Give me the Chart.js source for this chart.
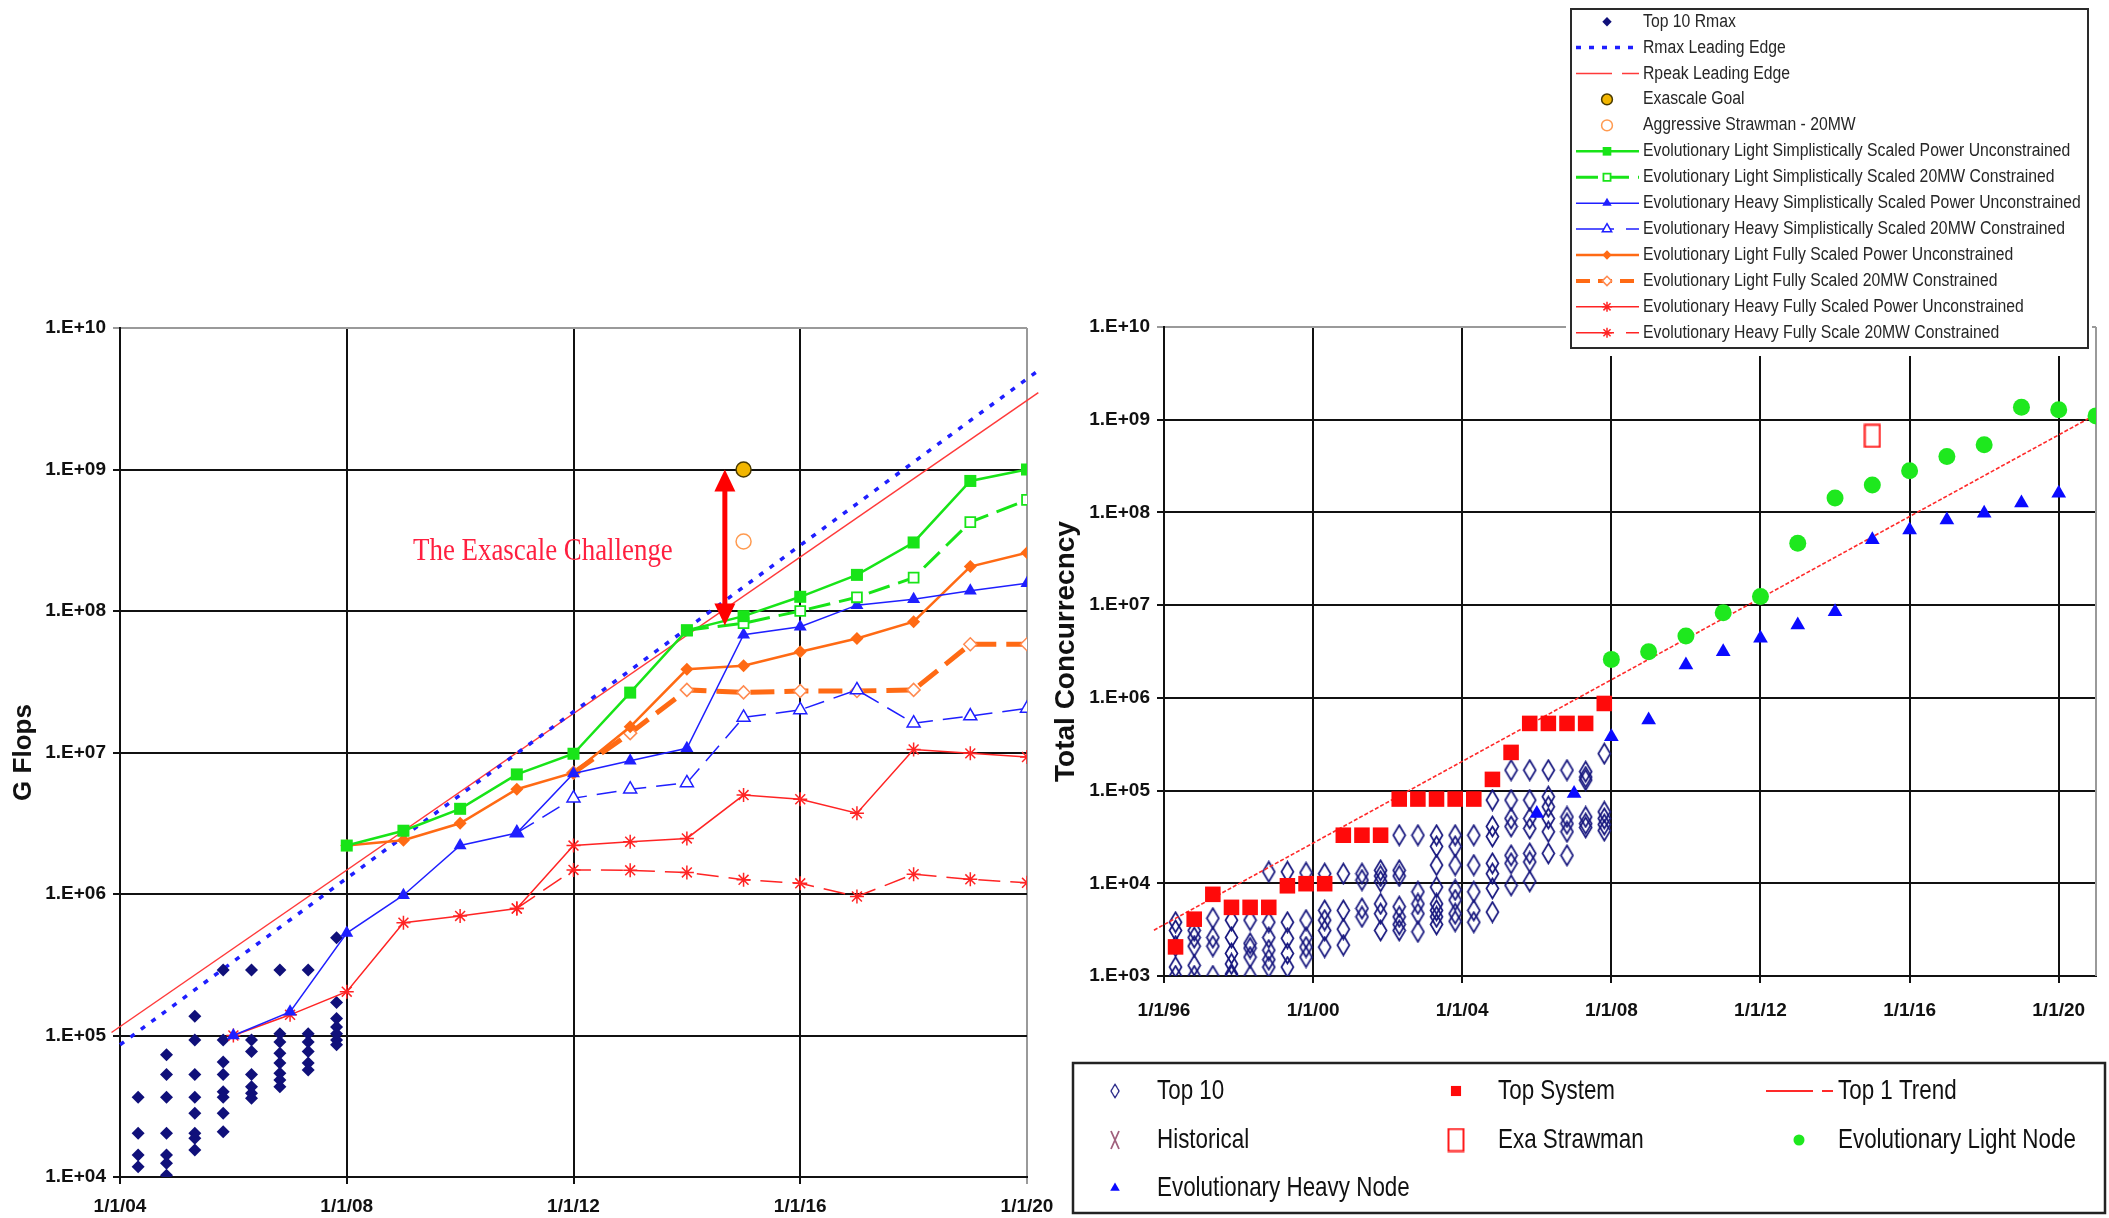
<!DOCTYPE html>
<html>
<head>
<meta charset="utf-8">
<title>Exascale projections</title>
<script src="https://cdn.jsdelivr.net/npm/chart.js"></script>
<style>
  html, body { margin: 0; padding: 0; background: #fff; }
  body { width: 2109px; height: 1218px; position: relative; overflow: hidden; }
  canvas { position: absolute; left: 0; top: 0; }
</style>
</head>
<body>
<canvas id="concurrencyChart" width="2109" height="1218"></canvas>
<canvas id="gflopsChart" width="2109" height="1218"></canvas>
<script>
// ---------- left chart: GFlops ----------
const gflopTicks = [1e4, 1e5, 1e6, 1e7, 1e8, 1e9, 1e10];
const gflopYearTicks = [2004, 2008, 2012, 2016, 2020];

const top10RmaxDates = [2004.32, 2004.82, 2005.32, 2005.82, 2006.32, 2006.82, 2007.32, 2007.82];
const top10RmaxValues = [
  [3.66e4, 2.04e4, 1.43e4, 1.18e4],
  [7.3e4, 5.3e4, 3.66e4, 2.04e4, 1.43e4, 1.25e4, 1.03e4],
  [1.37e5, 9.3e4, 5.3e4, 3.66e4, 2.82e4, 2.04e4, 1.88e4, 1.55e4],
  [2.9e5, 9.3e4, 6.5e4, 5.3e4, 4.0e4, 3.66e4, 2.82e4, 2.09e4],
  [2.9e5, 9.3e4, 7.7e4, 5.3e4, 4.35e4, 3.9e4, 3.6e4],
  [2.9e5, 1.03e5, 9.0e4, 7.5e4, 6.4e4, 5.4e4, 4.85e4, 4.35e4],
  [2.9e5, 1.03e5, 9.0e4, 7.7e4, 6.4e4, 5.7e4],
  [4.9e5, 1.71e5, 1.32e5, 1.15e5, 1.03e5, 9.3e4, 8.6e4]
];

const rmaxEdgeYears = [2004, 2020.17];
const rmaxEdge = [8.6e4, 4.9e9];
const rpeakEdgeYears = [2003.85, 2020.2];
const rpeakEdge = [1.05e5, 3.5e9];

const goalYears = [2015];
const goalValues = [1e9];
const aggressiveYears = [2015];
const aggressiveValues = [3.1e8];

const years08 = [2008, 2009, 2010, 2011, 2012, 2013, 2014, 2015, 2016, 2017, 2018, 2019, 2020];
const years06 = [2006, 2007, 2008, 2009, 2010, 2011, 2012, 2013, 2014, 2015, 2016, 2017, 2018, 2019, 2020];
const years11 = [2011, 2012, 2013, 2014, 2015, 2016, 2017, 2018, 2019, 2020];
const years12 = [2012, 2013, 2014, 2015, 2016, 2017, 2018, 2019, 2020];
const years14 = [2014, 2015, 2016, 2017, 2018, 2019, 2020];

const lightSimpleUnc = [2.2e6, 2.8e6, 4.0e6, 7.0e6, 9.8e6, 2.65e7, 7.3e7, 9.2e7, 1.26e8, 1.8e8, 3.05e8, 8.3e8, 1.0e9];
const lightSimple20 = [7.3e7, 8.2e7, 1.0e8, 1.25e8, 1.72e8, 4.25e8, 6.1e8];
const heavySimpleUnc = [1.0e5, 1.47e5, 5.3e5, 9.8e5, 2.2e6, 2.7e6, 7.1e6, 8.75e6, 1.07e7, 6.8e7, 7.75e7, 1.1e8, 1.21e8, 1.39e8, 1.57e8];
const heavySimple20 = [2.7e6, 4.75e6, 5.5e6, 6.1e6, 1.77e7, 2.0e7, 2.77e7, 1.61e7, 1.81e7, 2.05e7];
const lightFullUnc = [2.2e6, 2.4e6, 3.16e6, 5.5e6, 7.2e6, 1.52e7, 3.87e7, 4.1e7, 5.15e7, 6.4e7, 8.4e7, 2.06e8, 2.58e8];
const lightFull20 = [7.2e6, 1.37e7, 2.77e7, 2.66e7, 2.72e7, 2.72e7, 2.77e7, 5.82e7, 5.82e7];
const heavyFullUnc = [1.0e5, 1.4e5, 2.04e5, 6.27e5, 7.0e5, 7.9e5, 2.2e6, 2.34e6, 2.47e6, 5.0e6, 4.67e6, 3.72e6, 1.05e7, 9.86e6, 9.3e6];
const heavyFull20 = [7.9e5, 1.48e6, 1.47e6, 1.42e6, 1.26e6, 1.19e6, 9.6e5, 1.38e6, 1.27e6, 1.2e6];

const challengeText = 'The Exascale Challenge';
const challengeYear = 2009.17;
const challengeValue = 2.65e8;
const arrowYear = 2014.67;
const arrowTop = 1e9;
const arrowBottom = 7.9e7;

// ---------- right chart: total concurrency ----------
const concTicks = [1e3, 1e4, 1e5, 1e6, 1e7, 1e8, 1e9, 1e10];
const concYearTicks = [1996, 2000, 2004, 2008, 2012, 2016, 2020];

const listDates = [1996.31, 1996.81, 1997.31, 1997.81, 1998.31, 1998.81, 1999.31, 1999.81,
  2000.31, 2000.81, 2001.31, 2001.81, 2002.31, 2002.81, 2003.31, 2003.81,
  2004.31, 2004.81, 2005.31, 2005.81, 2006.31, 2006.81, 2007.31, 2007.81];
const topSystem = [2.06e3, 4.1e3, 7.6e3, 5.5e3, 5.5e3, 5.5e3, 9.4e3, 9.9e3,
  9.9e3, 3.3e4, 3.3e4, 3.3e4, 8.1e4, 8.1e4, 8.1e4, 8.1e4,
  8.1e4, 1.32e5, 2.58e5, 5.3e5, 5.3e5, 5.3e5, 5.3e5, 8.7e5];
const top10Values = [
  [3.8e3, 3.1e3, 2.1e3, 1.25e3, 1.0e3],
  [3.1e3, 2.6e3, 2.1e3, 1.3e3, 1.0e3],
  [4.2e3, 2.6e3, 2.1e3, 1.0e3],
  [4.0e3, 2.6e3, 1.75e3, 1.35e3, 1.05e3, 1.0e3],
  [4.0e3, 2.25e3, 2.0e3, 1.6e3, 1.0e3],
  [1.33e4, 3.8e3, 2.6e3, 1.9e3, 1.5e3, 1.25e3],
  [1.33e4, 3.8e3, 2.55e3, 1.75e3, 1.25e3],
  [1.3e4, 4.0e3, 2.6e3, 2.05e3, 1.6e3],
  [1.27e4, 5.1e3, 4.0e3, 3.1e3, 2.05e3],
  [1.27e4, 5.1e3, 3.2e3, 2.15e3],
  [1.27e4, 1.08e4, 5.35e3, 4.35e3],
  [1.38e4, 1.2e4, 1.05e4, 6.0e3, 4.7e3, 3.1e3],
  [3.3e4, 1.38e4, 1.2e4, 5.6e3, 4.35e3, 3.6e3, 3.1e3],
  [3.3e4, 8.1e3, 6.0e3, 4.7e3, 3.0e3],
  [3.3e4, 2.5e4, 1.57e4, 9.1e3, 6.0e3, 5.1e3, 4.35e3, 3.6e3],
  [3.3e4, 2.5e4, 1.57e4, 8.5e3, 6.6e3, 4.7e3, 3.9e3],
  [3.3e4, 1.57e4, 8.1e3, 5.1e3, 3.8e3],
  [7.9e4, 4.1e4, 3.2e4, 1.64e4, 1.27e4, 8.8e3, 4.9e3],
  [1.66e5, 7.9e4, 5.0e4, 4.1e4, 2.0e4, 1.64e4, 9.5e3],
  [1.66e5, 7.9e4, 5.0e4, 3.9e4, 2.1e4, 1.7e4, 1.05e4],
  [1.66e5, 8.6e4, 6.7e4, 5.0e4, 3.6e4, 2.1e4],
  [1.66e5, 5.2e4, 4.4e4, 3.6e4, 2.0e4],
  [1.6e5, 1.4e5, 1.3e5, 5.2e4, 4.4e4, 4.0e4],
  [2.5e5, 5.9e4, 5.0e4, 4.3e4, 3.7e4]
];
const trendYears = [1995.73, 2020.82];
const trendValues = [3.12e3, 1.04e9];
const strawYears = [2015];
const strawValues = [6.7e8];
const lightNodeYears = [2008, 2009, 2010, 2011, 2012, 2013, 2014, 2015, 2016, 2017, 2018, 2019, 2020, 2021];
const lightNode = [2.6e6, 3.15e6, 4.65e6, 8.3e6, 1.24e7, 4.66e7, 1.43e8, 1.98e8, 2.81e8, 4.0e8, 5.36e8, 1.36e9, 1.28e9, 1.1e9];
const heavyNodeYears = [2006, 2007, 2008, 2009, 2010, 2011, 2012, 2013, 2014, 2015, 2016, 2017, 2018, 2019, 2020];
const heavyNode = [5.66e4, 9.3e4, 3.8e5, 5.77e5, 2.26e6, 3.15e6, 4.39e6, 6.1e6, 8.5e6, 5.06e7, 6.48e7, 8.3e7, 9.8e7, 1.26e8, 1.61e8];

// ---------- helpers ----------
function pts(xs, ys) { return xs.map((x, i) => ({ x: x, y: ys[i] })); }
function columnPts(dates, cols) { return dates.flatMap((d, i) => cols[i].map(v => ({ x: d, y: v }))); }
function dateLabel(v) { return '1/1/' + String(v % 100).padStart(2, '0'); }
function expLabel(v) { return '1.E+' + String(Math.round(Math.log10(v))).padStart(2, '0'); }

function hasFont(name) {
  const g = document.createElement('canvas').getContext('2d');
  const probe = 'mmmmmmmmmmlli10ABCwxyz';
  g.font = '40px monospace';
  const base = g.measureText(probe).width;
  g.font = '40px "' + name + '", monospace';
  return g.measureText(probe).width !== base;
}
const narrow = hasFont('Liberation Sans Narrow');
const tickFont = narrow
  ? { family: '"Liberation Sans Narrow"', size: 21, weight: 'bold' }
  : { family: '"Liberation Sans"', size: 19, weight: 'bold' };

Chart.defaults.font.family = '"Liberation Sans", Arial, sans-serif';

function makeMarker(w, h, draw) {
  const c = document.createElement('canvas');
  c.width = w; c.height = h;
  draw(c.getContext('2d'), w, h);
  return c;
}
const hollowDiamond = makeMarker(15, 23, (g, w, h) => {
  g.strokeStyle = '#16167e'; g.lineWidth = 1.7;
  g.beginPath(); g.moveTo(w / 2, 1.5); g.lineTo(w - 1.5, h / 2); g.lineTo(w / 2, h - 1.5); g.lineTo(1.5, h / 2);
  g.closePath(); g.stroke();
});
const strawRect = makeMarker(18, 25, (g, w, h) => {
  g.strokeStyle = '#ff1a1a'; g.lineWidth = 2; g.strokeRect(1.5, 1.5, w - 3, h - 3);
});
const historicalX = makeMarker(12, 22, (g, w, h) => {
  g.strokeStyle = '#a0607c'; g.lineWidth = 1.8;
  g.beginPath(); g.moveTo(2, 2); g.lineTo(w - 2, h - 2); g.moveTo(w - 2, 2); g.lineTo(2, h - 2); g.stroke();
});

// marker drawing for the hand-placed legends
function drawMarker(ctx, style, r, x, y, fill, stroke, lw, s) {
  ctx.save();
  if (style instanceof HTMLCanvasElement) {
    ctx.drawImage(style, x - style.width * s / 2, y - style.height * s / 2, style.width * s, style.height * s);
    ctx.restore();
    return;
  }
  ctx.fillStyle = fill; ctx.strokeStyle = stroke; ctx.lineWidth = lw; ctx.setLineDash([]);
  ctx.beginPath();
  if (style === 'circle') ctx.arc(x, y, r, 0, Math.PI * 2);
  else if (style === 'rect') { const q = r * Math.SQRT1_2; ctx.rect(x - q, y - q, 2 * q, 2 * q); }
  else if (style === 'rectRot') { ctx.moveTo(x - r, y); ctx.lineTo(x, y - r); ctx.lineTo(x + r, y); ctx.lineTo(x, y + r); ctx.closePath(); }
  else if (style === 'triangle') {
    for (let k = 0; k < 3; k++) {
      const a = k * 2 * Math.PI / 3;
      if (k === 0) ctx.moveTo(x + Math.sin(a) * r, y - Math.cos(a) * r); else ctx.lineTo(x + Math.sin(a) * r, y - Math.cos(a) * r);
    }
    ctx.closePath();
  } else if (style === 'star') {
    for (let k = 0; k < 4; k++) {
      const a = k * Math.PI / 4;
      ctx.moveTo(x - r * Math.cos(a), y - r * Math.sin(a)); ctx.lineTo(x + r * Math.cos(a), y + r * Math.sin(a));
    }
  }
  if (style !== 'star') ctx.fill();
  if (lw > 0) ctx.stroke();
  ctx.restore();
}

function scaledText(ctx, text, x, y, font, color, sx) {
  ctx.save();
  ctx.font = font; ctx.fillStyle = color; ctx.textBaseline = 'middle'; ctx.textAlign = 'left';
  ctx.translate(x, y); ctx.scale(sx, 1);
  ctx.fillText(text, 0, 0);
  ctx.restore();
}

// ---------- plugins ----------
const challengePlugin = {
  id: 'challenge',
  afterDatasetsDraw(chart) {
    const { ctx, scales: { x, y } } = chart;
    const ax = x.getPixelForValue(arrowYear);
    const y1 = y.getPixelForValue(arrowTop);
    const y2 = y.getPixelForValue(arrowBottom);
    ctx.save();
    ctx.strokeStyle = '#ff0000'; ctx.fillStyle = '#ff0000'; ctx.lineWidth = 5;
    ctx.beginPath(); ctx.moveTo(ax, y1 + 18); ctx.lineTo(ax, y2 - 18); ctx.stroke();
    ctx.beginPath(); ctx.moveTo(ax, y1); ctx.lineTo(ax - 10.5, y1 + 22); ctx.lineTo(ax + 10.5, y1 + 22); ctx.closePath(); ctx.fill();
    ctx.beginPath(); ctx.moveTo(ax, y2); ctx.lineTo(ax - 10.5, y2 - 22); ctx.lineTo(ax + 10.5, y2 - 22); ctx.closePath(); ctx.fill();
    ctx.restore();
    scaledText(ctx, challengeText, x.getPixelForValue(challengeYear), y.getPixelForValue(challengeValue),
      '32px "Liberation Serif", "Times New Roman", serif', '#ff1f3f', 0.84);
  }
};

const topLegendPlugin = {
  id: 'topLegend',
  afterDraw(chart) {
    const ctx = chart.ctx;
    const bx = 1571, by = 9, bw = 517, bh = 339;
    ctx.save();
    ctx.fillStyle = '#fff';
    ctx.fillRect(bx - 5, by - 4, bw + 9, bh + 12);
    ctx.strokeStyle = '#2a2a2a'; ctx.lineWidth = 2;
    ctx.strokeRect(bx, by, bw, bh);
    chart.data.datasets.forEach((ds, i) => {
      const y = by + 12.7 + i * 25.92;
      if (ds.showLine) {
        ctx.save();
        ctx.strokeStyle = ds.borderColor; ctx.lineWidth = Math.min(ds.borderWidth, 4);
        ctx.setLineDash(ds.legendDash || ds.borderDash || []);
        ctx.beginPath(); ctx.moveTo(1576, y); ctx.lineTo(1639, y); ctx.stroke();
        ctx.restore();
      }
      drawMarker(ctx, ds.pointStyle, ds.pointRadius * 0.72, 1607, y,
        ds.pointBackgroundColor || ds.backgroundColor, ds.pointBorderColor || ds.borderColor,
        ds.pointBorderWidth !== undefined ? ds.pointBorderWidth : 1, 0.7);
      scaledText(ctx, ds.label, 1643, y, '18px "Liberation Sans", Arial, sans-serif', '#262626', 0.875);
    });
    ctx.restore();
  }
};

const concLegendCells = {
  'Top 10': [0, 0], 'Top System': [1, 0], 'Top 1 Trend': [2, 0],
  'Historical': [0, 1], 'Exa Strawman': [1, 1], 'Evolutionary Light Node': [2, 1],
  'Evolutionary Heavy Node': [0, 2]
};
const concLegendPlugin = {
  id: 'concLegend',
  beforeDatasetsDraw(chart) {
    const { ctx, chartArea: a } = chart;
    ctx.save();
    ctx.strokeStyle = '#9a9a9a'; ctx.lineWidth = 2;
    ctx.beginPath(); ctx.moveTo(a.right, a.top); ctx.lineTo(a.right, a.bottom); ctx.stroke();
    ctx.restore();
  },
  afterDraw(chart) {
    const ctx = chart.ctx;
    const markX = [1115, 1456, 1799], textX = [1157, 1498, 1838], rowY = [1091, 1140, 1188];
    ctx.save();
    ctx.strokeStyle = '#222'; ctx.lineWidth = 2.5;
    ctx.strokeRect(1073, 1063, 1032, 150);
    chart.data.datasets.forEach(ds => {
      const cell = concLegendCells[ds.label];
      if (!cell) return;
      const [c, r] = cell;
      const y = rowY[r];
      if (ds.showLine) {
        ctx.save();
        ctx.strokeStyle = ds.borderColor; ctx.lineWidth = 2;
        ctx.setLineDash(ds.legendDash || []);
        ctx.beginPath(); ctx.moveTo(1766, y); ctx.lineTo(1833, y); ctx.stroke();
        ctx.restore();
      } else {
        drawMarker(ctx, ds.pointStyle, ds.pointRadius * 0.65, markX[c], y,
          ds.pointBackgroundColor || ds.backgroundColor, ds.pointBorderColor || ds.borderColor,
          ds.pointBorderWidth || 0, ds.legendScale || 0.7);
      }
      scaledText(ctx, ds.label, textX[c], y, '28px "Liberation Sans", Arial, sans-serif', '#111', 0.80);
    });
    ctx.restore();
  }
};

function gridColor(topValue) {
  return c => (c.tick && c.tick.value === topValue) ? '#9a9a9a' : '#111';
}

// ---------- left chart ----------
const NAVY = '#10107a', BLUE = '#1f1fff', RED = '#ff2424', GREEN = '#18e418', ORANGE = '#ff6a14';

new Chart(document.getElementById('gflopsChart'), {
  type: 'scatter',
  data: {
    datasets: [
      { label: 'Top 10 Rmax', data: columnPts(top10RmaxDates, top10RmaxValues), pointStyle: 'rectRot', pointRadius: 6.5,
        backgroundColor: NAVY, borderColor: NAVY, pointBorderWidth: 0, order: 9 },
      { label: 'Rmax Leading Edge', data: pts(rmaxEdgeYears, rmaxEdge), showLine: true, borderColor: BLUE, borderWidth: 3.5,
        borderDash: [5, 8], pointRadius: 0, clip: false, order: 10 },
      { label: 'Rpeak Leading Edge', data: pts(rpeakEdgeYears, rpeakEdge), showLine: true, borderColor: '#ff3a3a', borderWidth: 1.5,
        legendDash: [36, 10], pointRadius: 0, clip: false, order: 10 },
      { label: 'Exascale Goal', data: pts(goalYears, goalValues), pointStyle: 'circle', pointRadius: 7.5,
        backgroundColor: '#f2b600', borderColor: '#4a3a00', pointBorderWidth: 1.5 },
      { label: 'Aggressive Strawman - 20MW', data: pts(aggressiveYears, aggressiveValues), pointStyle: 'circle', pointRadius: 7.5,
        backgroundColor: '#fff', borderColor: '#ff9a50', pointBorderWidth: 1.5 },
      { label: 'Evolutionary Light Simplistically Scaled Power Unconstrained', data: pts(years08, lightSimpleUnc), showLine: true,
        borderColor: GREEN, backgroundColor: GREEN, borderWidth: 2.5, pointStyle: 'rect', pointRadius: 8.5, pointBorderWidth: 0 },
      { label: 'Evolutionary Light Simplistically Scaled 20MW Constrained', data: pts(years14, lightSimple20), showLine: true,
        borderColor: GREEN, borderWidth: 3, borderDash: [22, 9], pointStyle: 'rect', pointRadius: 7,
        pointBackgroundColor: '#fff', pointBorderColor: GREEN, pointBorderWidth: 1.8 },
      { label: 'Evolutionary Heavy Simplistically Scaled Power Unconstrained', data: pts(years06, heavySimpleUnc), showLine: true,
        borderColor: BLUE, backgroundColor: BLUE, borderWidth: 1.5, pointStyle: 'triangle', pointRadius: 7.5, pointBorderWidth: 0 },
      { label: 'Evolutionary Heavy Simplistically Scaled 20MW Constrained', data: pts(years11, heavySimple20), showLine: true,
        borderColor: BLUE, borderWidth: 1.5, borderDash: [20, 10], legendDash: [38, 12], pointStyle: 'triangle', pointRadius: 7.5,
        pointBackgroundColor: '#fff', pointBorderColor: BLUE, pointBorderWidth: 1.5 },
      { label: 'Evolutionary Light Fully Scaled Power Unconstrained', data: pts(years08, lightFullUnc), showLine: true,
        borderColor: ORANGE, backgroundColor: ORANGE, borderWidth: 2.5, pointStyle: 'rectRot', pointRadius: 6.5, pointBorderWidth: 0 },
      { label: 'Evolutionary Light Fully Scaled 20MW Constrained', data: pts(years12, lightFull20), showLine: true,
        borderColor: ORANGE, borderWidth: 5, borderDash: [24, 10], legendDash: [14, 8], pointStyle: 'rectRot', pointRadius: 6.5,
        pointBackgroundColor: '#fff', pointBorderColor: '#ff8a50', pointBorderWidth: 1.5 },
      { label: 'Evolutionary Heavy Fully Scaled Power Unconstrained', data: pts(years06, heavyFullUnc), showLine: true,
        borderColor: RED, backgroundColor: RED, borderWidth: 1.5, pointStyle: 'star', pointRadius: 7, pointBorderWidth: 1.5 },
      { label: 'Evolutionary Heavy Fully Scale 20MW Constrained', data: pts(years11, heavyFull20), showLine: true,
        borderColor: RED, backgroundColor: RED, borderWidth: 1.5, borderDash: [22, 10], legendDash: [38, 12],
        pointStyle: 'star', pointRadius: 7, pointBorderWidth: 1.5 }
    ]
  },
  options: {
    responsive: false,
    animation: false,
    events: [],
    layout: { padding: { left: 0, top: 328, right: 1082, bottom: 0 } },
    plugins: { legend: { display: false }, tooltip: { enabled: false } },
    scales: {
      x: {
        type: 'linear', min: 2004, max: 2020,
        afterBuildTicks: s => { s.ticks = gflopYearTicks.map(v => ({ value: v })); },
        afterFit: s => { s.height = 41; },
        ticks: { callback: dateLabel, font: tickFont, color: '#111', padding: 11, maxRotation: 0, autoSkip: false },
        grid: { color: gridColor(2020), lineWidth: 2, tickLength: 7 },
        border: { color: '#111', width: 2 }
      },
      y: {
        type: 'logarithmic', min: 1e4, max: 1e10,
        afterBuildTicks: s => { s.ticks = gflopTicks.map(v => ({ value: v })); },
        afterFit: s => { s.width = 120; },
        ticks: { callback: expLabel, font: tickFont, color: '#111', padding: 7, autoSkip: false },
        grid: { color: gridColor(1e10), lineWidth: 2, tickLength: 7 },
        border: { color: '#111', width: 2 },
        title: { display: true, text: 'G Flops', color: '#111', padding: 8,
          font: { family: '"Liberation Sans", Arial, sans-serif', size: 26, weight: 'bold' } }
      }
    }
  },
  plugins: [challengePlugin, topLegendPlugin]
});

// ---------- right chart ----------
new Chart(document.getElementById('concurrencyChart'), {
  type: 'scatter',
  data: {
    datasets: [
      { label: 'Top 10', data: columnPts(listDates, top10Values), pointStyle: hollowDiamond, pointRadius: 8, legendScale: 0.68, order: 9 },
      { label: 'Historical', data: [], pointStyle: historicalX, pointRadius: 8, legendScale: 1 },
      { label: 'Evolutionary Heavy Node', data: pts(heavyNodeYears, heavyNode), pointStyle: 'triangle', pointRadius: 8.5,
        backgroundColor: '#0a0aff', borderColor: '#0a0aff', pointBorderWidth: 0 },
      { label: 'Top System', data: pts(listDates, topSystem), pointStyle: 'rect', pointRadius: 11,
        backgroundColor: '#ff0a0a', borderColor: '#ff0a0a', pointBorderWidth: 0, order: 2 },
      { label: 'Exa Strawman', data: pts(strawYears, strawValues), pointStyle: strawRect, pointRadius: 8, legendScale: 1 },
      { label: 'Top 1 Trend', data: pts(trendYears, trendValues), showLine: true, borderColor: '#ff2a2a', borderWidth: 1.6,
        borderDash: [4, 2], legendDash: [47, 9, 11, 200], pointRadius: 0, clip: false, order: 5 },
      { label: 'Evolutionary Light Node', data: pts(lightNodeYears, lightNode), pointStyle: 'circle', pointRadius: 8.5,
        backgroundColor: '#1ee81e', borderColor: '#1ee81e', pointBorderWidth: 0 }
    ]
  },
  options: {
    responsive: false,
    animation: false,
    events: [],
    layout: { padding: { left: 1040, top: 327, right: 13, bottom: 202 } },
    plugins: { legend: { display: false }, tooltip: { enabled: false } },
    scales: {
      x: {
        type: 'linear', min: 1996, max: 2021,
        afterBuildTicks: s => { s.ticks = concYearTicks.map(v => ({ value: v })); },
        afterFit: s => { s.height = 40; },
        ticks: { callback: dateLabel, font: tickFont, color: '#111', padding: 16, maxRotation: 0, autoSkip: false },
        grid: { color: '#111', lineWidth: 2, tickLength: 7 },
        border: { color: '#111', width: 2 }
      },
      y: {
        type: 'logarithmic', min: 1e3, max: 1e10,
        afterBuildTicks: s => { s.ticks = concTicks.map(v => ({ value: v })); },
        afterFit: s => { s.width = 124; },
        ticks: { callback: expLabel, font: tickFont, color: '#111', padding: 7, autoSkip: false },
        grid: { color: gridColor(1e10), lineWidth: 2, tickLength: 7 },
        border: { color: '#111', width: 2 },
        title: { display: true, text: 'Total Concurrecncy', color: '#111', padding: 9,
          font: { family: '"Liberation Sans", Arial, sans-serif', size: 28, weight: 'bold' } }
      }
    }
  },
  plugins: [concLegendPlugin]
});
</script>
</body>
</html>
